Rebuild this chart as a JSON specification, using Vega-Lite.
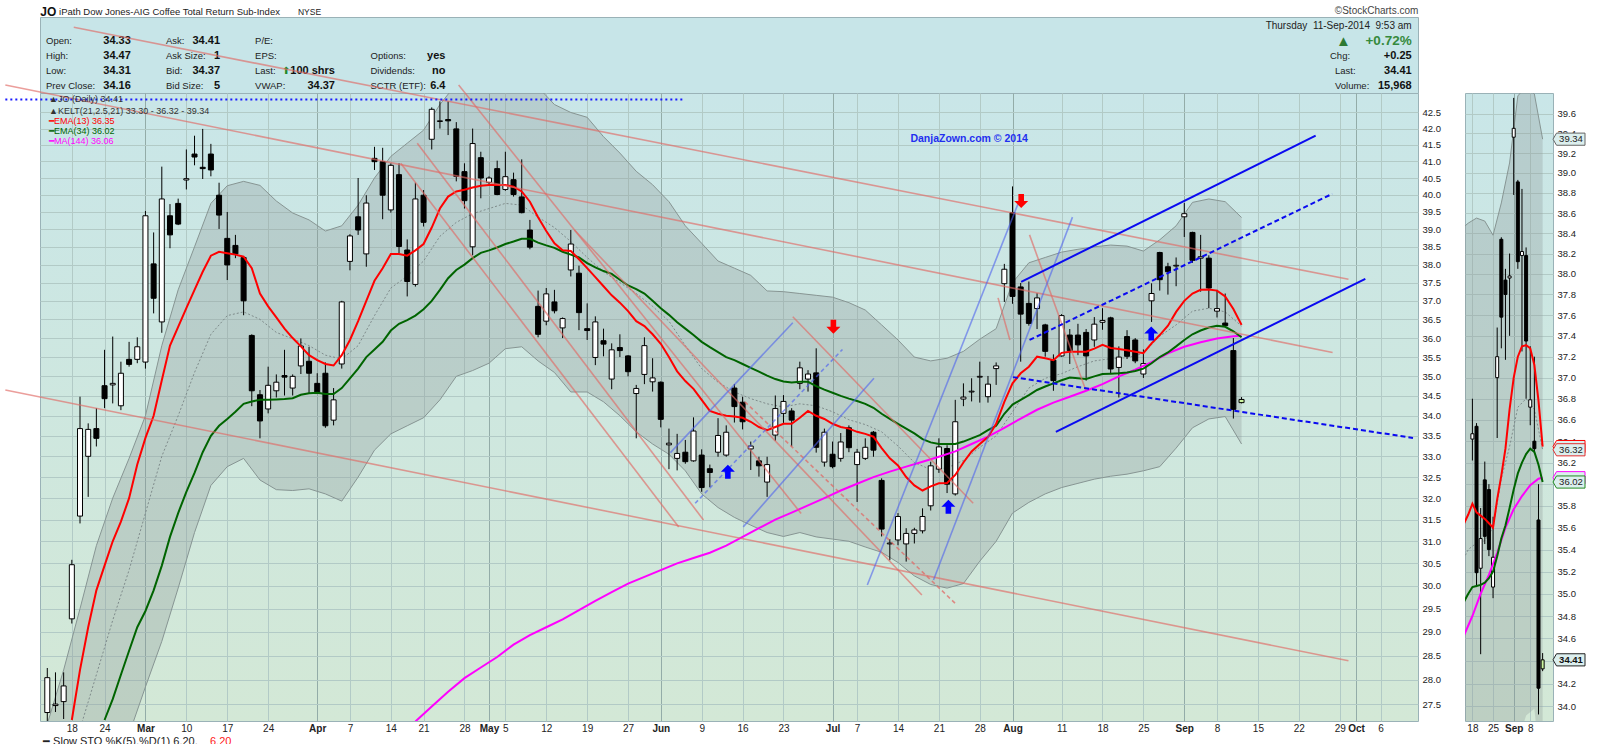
{
  "$schema": "https://vega.github.io/schema/vega-lite/v6.json",
  "padding": {"left": 0, "top": 5, "right": 0, "bottom": 0},
  "background": "white",
  "config": {
    "font": "Liberation Sans",
    "view": {"stroke": null},
    "axis": {"labelFont": "Liberation Sans", "labelColor": "#222", "labelFontSize": 9.5, "domain": false, "ticks": false, "gridColor": "#b2cac6", "gridWidth": 1}
  },
  "datasets": {
    "candles": [
      {"t":-3,"o":27.33,"h":28.24,"l":27.1,"c":28.04},{"t":-2,"o":27.47,"h":28.15,"l":27.34,"c":27.5},{"t":-1,"o":27.55,"h":28.15,"l":27.2,"c":27.87},
      {"t":0,"o":29.28,"h":30.58,"l":29.18,"c":30.47},{"t":1,"o":31.58,"h":34.48,"l":31.41,"c":33.68},{"t":2,"o":33.0,"h":33.81,"l":32.03,"c":33.66},
      {"t":3,"o":33.68,"h":34.19,"l":33.24,"c":33.44},{"t":4,"o":34.76,"h":35.69,"l":34.19,"c":34.43},{"t":5,"o":34.78,"h":36.04,"l":34.31,"c":34.82},
      {"t":6,"o":34.25,"h":35.38,"l":34.14,"c":35.08},{"t":7,"o":35.44,"h":35.9,"l":35.25,"c":35.31},{"t":8,"o":35.44,"h":36.02,"l":35.34,"c":35.77},
      {"t":9,"o":35.37,"h":39.53,"l":35.2,"c":39.39},{"t":10,"o":38.02,"h":38.91,"l":36.66,"c":37.07},{"t":11,"o":36.43,"h":40.84,"l":36.14,"c":39.88},
      {"t":12,"o":39.39,"h":39.73,"l":38.46,"c":38.84},{"t":13,"o":39.75,"h":39.89,"l":39.12,"c":39.15},{"t":14,"o":40.44,"h":41.36,"l":40.16,"c":40.48},
      {"t":15,"o":41.22,"h":41.78,"l":40.88,"c":41.13},{"t":16,"o":40.82,"h":41.99,"l":40.47,"c":40.78},{"t":17,"o":41.22,"h":41.53,"l":40.55,"c":40.74},
      {"t":18,"o":39.99,"h":40.36,"l":39.01,"c":39.41},{"t":19,"o":38.74,"h":39.5,"l":37.57,"c":37.99},{"t":20,"o":38.54,"h":38.84,"l":38.18,"c":38.3},
      {"t":21,"o":38.2,"h":38.22,"l":36.61,"c":37.0},{"t":22,"o":36.07,"h":36.1,"l":34.24,"c":34.63},{"t":23,"o":34.53,"h":34.65,"l":33.44,"c":33.87},
      {"t":24,"o":34.17,"h":35.25,"l":34.06,"c":34.77},{"t":25,"o":34.63,"h":35.05,"l":34.46,"c":34.85},{"t":26,"o":35.02,"h":35.69,"l":34.51,"c":34.98},
      {"t":27,"o":34.7,"h":35.05,"l":34.51,"c":35.0},{"t":28,"o":35.27,"h":35.99,"l":35.06,"c":35.79},{"t":29,"o":35.39,"h":35.77,"l":34.56,"c":35.08},
      {"t":30,"o":34.82,"h":35.08,"l":34.55,"c":34.56},{"t":31,"o":35.08,"h":35.36,"l":33.7,"c":33.75},{"t":32,"o":33.89,"h":34.7,"l":33.76,"c":34.4},
      {"t":33,"o":35.32,"h":37.0,"l":35.2,"c":36.97},{"t":34,"o":38.09,"h":38.86,"l":37.84,"c":38.81},{"t":35,"o":39.36,"h":40.5,"l":38.84,"c":38.98},
      {"t":36,"o":38.3,"h":39.99,"l":37.94,"c":39.76},{"t":37,"o":41.09,"h":41.44,"l":40.74,"c":40.99},{"t":38,"o":40.99,"h":41.41,"l":39.29,"c":39.99},
      {"t":39,"o":39.56,"h":40.94,"l":39.48,"c":40.88},{"t":40,"o":40.6,"h":40.94,"l":38.32,"c":38.51},{"t":41,"o":38.41,"h":38.71,"l":37.12,"c":37.53},
      {"t":42,"o":37.45,"h":40.36,"l":37.39,"c":39.88},{"t":43,"o":39.99,"h":40.14,"l":39.08,"c":39.2},{"t":44,"o":41.67,"h":42.66,"l":41.36,"c":42.6},
      {"t":45,"o":42.22,"h":42.85,"l":42.0,"c":42.24},{"t":46,"o":42.28,"h":42.85,"l":41.8,"c":42.24},{"t":47,"o":41.99,"h":42.2,"l":40.4,"c":40.55},
      {"t":48,"o":40.69,"h":40.94,"l":39.6,"c":39.83},{"t":49,"o":38.5,"h":42.0,"l":38.26,"c":41.54},{"t":50,"o":41.11,"h":41.29,"l":39.9,"c":40.5},
      {"t":51,"o":40.37,"h":40.55,"l":40.3,"c":40.5},{"t":52,"o":40.78,"h":41.02,"l":39.99,"c":40.01},{"t":53,"o":40.16,"h":41.29,"l":40.12,"c":40.54},
      {"t":54,"o":40.45,"h":40.66,"l":39.95,"c":40.01},{"t":55,"o":39.94,"h":41.06,"l":39.46,"c":39.48},{"t":56,"o":38.98,"h":39.27,"l":38.43,"c":38.49},
      {"t":57,"o":36.85,"h":37.28,"l":36.02,"c":36.1},{"t":58,"o":36.45,"h":37.35,"l":36.34,"c":37.19},{"t":59,"o":36.97,"h":37.3,"l":36.66,"c":36.73},
      {"t":60,"o":36.27,"h":36.55,"l":36.0,"c":36.52},{"t":61,"o":37.85,"h":38.98,"l":37.67,"c":38.58},{"t":62,"o":37.76,"h":37.97,"l":36.21,"c":36.68},
      {"t":63,"o":36.25,"h":36.93,"l":35.95,"c":36.2},{"t":64,"o":35.49,"h":36.58,"l":35.29,"c":36.43},{"t":65,"o":35.93,"h":36.25,"l":35.52,"c":35.84},
      {"t":66,"o":34.93,"h":35.86,"l":34.67,"c":35.69},{"t":67,"o":35.75,"h":36.1,"l":35.5,"c":35.67},{"t":68,"o":35.53,"h":35.55,"l":35.0,"c":35.12},
      {"t":69,"o":34.56,"h":34.78,"l":33.44,"c":34.69},{"t":70,"o":35.05,"h":36.02,"l":34.8,"c":35.8},{"t":71,"o":34.86,"h":35.47,"l":34.61,"c":34.96},
      {"t":72,"o":34.85,"h":34.87,"l":33.71,"c":33.91},{"t":73,"o":33.28,"h":33.68,"l":32.69,"c":33.32},{"t":74,"o":32.95,"h":33.55,"l":32.66,"c":33.07},
      {"t":75,"o":33.1,"h":33.4,"l":32.82,"c":32.87},{"t":76,"o":32.89,"h":33.96,"l":32.87,"c":33.62},{"t":77,"o":33.03,"h":33.17,"l":32.15,"c":32.25},
      {"t":78,"o":32.7,"h":32.8,"l":32.26,"c":32.61},{"t":79,"o":33.1,"h":33.94,"l":32.99,"c":33.51},{"t":80,"o":33.03,"h":33.76,"l":32.99,"c":33.59},
      {"t":81,"o":34.7,"h":34.8,"l":33.83,"c":34.23},{"t":82,"o":34.34,"h":34.48,"l":33.66,"c":33.85},{"t":83,"o":33.18,"h":33.36,"l":32.67,"c":33.25},
      {"t":84,"o":32.89,"h":32.99,"l":32.51,"c":32.77},{"t":85,"o":32.38,"h":32.99,"l":32.03,"c":32.8},{"t":86,"o":33.52,"h":34.51,"l":33.38,"c":34.18},
      {"t":87,"o":34.06,"h":34.52,"l":33.82,"c":34.36},{"t":88,"o":34.12,"h":34.19,"l":33.24,"c":33.89},{"t":89,"o":34.82,"h":35.38,"l":34.67,"c":35.22},
      {"t":90,"o":34.93,"h":35.16,"l":34.61,"c":35.06},{"t":91,"o":35.09,"h":35.73,"l":33.09,"c":33.22},{"t":92,"o":32.86,"h":33.68,"l":32.75,"c":33.59},
      {"t":93,"o":33.05,"h":33.36,"l":32.71,"c":32.75},{"t":94,"o":32.95,"h":33.57,"l":32.87,"c":33.35},{"t":95,"o":33.7,"h":33.76,"l":33.1,"c":33.21},
      {"t":96,"o":32.8,"h":33.18,"l":31.91,"c":33.1},{"t":97,"o":32.95,"h":33.44,"l":32.91,"c":33.22},{"t":98,"o":33.59,"h":33.62,"l":32.99,"c":33.15},
      {"t":99,"o":32.42,"h":32.47,"l":31.11,"c":31.28},{"t":100,"o":30.94,"h":31.05,"l":30.57,"c":30.96},{"t":101,"o":31.03,"h":31.65,"l":30.91,"c":31.57},
      {"t":102,"o":30.94,"h":31.3,"l":30.54,"c":31.18},{"t":103,"o":31.18,"h":31.31,"l":30.95,"c":31.26},{"t":104,"o":31.24,"h":31.76,"l":31.18,"c":31.57},
      {"t":105,"o":31.82,"h":32.87,"l":31.71,"c":32.77},{"t":106,"o":32.69,"h":33.44,"l":32.6,"c":33.23},{"t":107,"o":33.19,"h":33.27,"l":32.12,"c":32.33},
      {"t":108,"o":32.1,"h":34.4,"l":32.06,"c":33.85},{"t":109,"o":34.42,"h":34.82,"l":34.24,"c":34.47},{"t":110,"o":34.6,"h":34.95,"l":34.36,"c":34.62},
      {"t":111,"o":34.98,"h":35.38,"l":34.33,"c":35.0},{"t":112,"o":34.48,"h":35.01,"l":34.33,"c":34.8},{"t":113,"o":35.2,"h":35.36,"l":34.78,"c":35.27},
      {"t":114,"o":37.47,"h":38.02,"l":36.97,"c":37.87},{"t":115,"o":39.48,"h":40.25,"l":36.92,"c":37.12},{"t":116,"o":37.38,"h":37.49,"l":35.38,"c":36.64},
      {"t":117,"o":36.93,"h":37.53,"l":36.33,"c":36.39},{"t":118,"o":36.79,"h":37.21,"l":36.24,"c":37.08},{"t":119,"o":36.35,"h":36.38,"l":35.51,"c":35.65},
      {"t":120,"o":35.42,"h":35.57,"l":34.63,"c":34.89},{"t":121,"o":35.53,"h":36.64,"l":35.51,"c":36.6},{"t":122,"o":36.08,"h":36.24,"l":35.32,"c":35.67},
      {"t":123,"o":36.08,"h":36.38,"l":35.55,"c":35.82},{"t":124,"o":36.15,"h":36.24,"l":34.89,"c":35.53},{"t":125,"o":35.95,"h":36.56,"l":35.77,"c":36.37},
      {"t":126,"o":36.42,"h":36.8,"l":36.22,"c":36.47},{"t":127,"o":36.54,"h":36.57,"l":35.06,"c":35.19},{"t":128,"o":35.23,"h":35.78,"l":34.46,"c":35.5},
      {"t":129,"o":36.04,"h":36.21,"l":35.45,"c":35.52},{"t":130,"o":35.95,"h":36.0,"l":35.34,"c":35.4},{"t":131,"o":35.06,"h":35.7,"l":34.96,"c":35.33},
      {"t":132,"o":37.0,"h":37.48,"l":36.43,"c":37.2},{"t":133,"o":38.34,"h":38.36,"l":37.28,"c":37.58},{"t":134,"o":37.94,"h":38.05,"l":37.17,"c":37.8},
      {"t":135,"o":37.96,"h":38.2,"l":37.4,"c":37.98},{"t":136,"o":39.36,"h":39.76,"l":38.78,"c":39.45},{"t":137,"o":38.91,"h":38.93,"l":38.05,"c":38.12},
      {"t":138,"o":38.18,"h":38.84,"l":37.25,"c":38.22},{"t":139,"o":38.18,"h":38.26,"l":36.8,"c":37.35},{"t":140,"o":36.72,"h":37.3,"l":36.55,"c":36.79},
      {"t":141,"o":36.4,"h":37.2,"l":36.29,"c":36.33},{"t":142,"o":35.67,"h":36.0,"l":33.93,"c":34.16},{"t":143,"o":34.33,"h":34.47,"l":34.31,"c":34.41}
    ],
    "kelt": [
      {"t":-3,"u":27.1,"m":26.0,"lo":25.0},{"t":-1,"u":28.2,"m":26.6,"lo":25.5},{"t":1,"u":29.5,"m":27.0,"lo":25.9},{"t":3,"u":30.9,"m":28.1,"lo":26.2},
      {"t":5,"u":32.0,"m":29.25,"lo":26.5},{"t":7,"u":32.95,"m":30.35,"lo":26.9},{"t":9,"u":34.0,"m":31.65,"lo":27.85},{"t":11,"u":35.8,"m":33.0,"lo":28.8},
      {"t":13,"u":37.3,"m":34.0,"lo":29.95},{"t":15,"u":38.5,"m":35.1,"lo":31.2},{"t":17,"u":39.75,"m":36.1,"lo":32.3},{"t":19,"u":40.27,"m":36.6,"lo":32.75},
      {"t":21,"u":40.4,"m":36.7,"lo":32.95},{"t":23,"u":40.28,"m":36.5,"lo":32.43},{"t":25,"u":39.82,"m":36.15,"lo":32.2},{"t":27,"u":39.47,"m":35.98,"lo":32.18},
      {"t":29,"u":39.27,"m":35.8,"lo":32.22},{"t":31,"u":38.95,"m":35.55,"lo":32.1},{"t":33,"u":39.1,"m":35.45,"lo":31.93},{"t":35,"u":39.7,"m":35.8,"lo":32.5},
      {"t":37,"u":40.5,"m":36.6,"lo":33.15},{"t":39,"u":41.15,"m":37.35,"lo":33.55},{"t":41,"u":41.55,"m":37.68,"lo":33.75},{"t":43,"u":41.95,"m":38.1,"lo":33.95},
      {"t":45,"u":42.75,"m":38.8,"lo":34.4},{"t":47,"u":43.4,"m":39.2,"lo":35.0},{"t":49,"u":43.6,"m":39.45,"lo":35.15},{"t":51,"u":43.7,"m":39.6,"lo":35.34},
      {"t":53,"u":43.7,"m":39.75,"lo":35.72},{"t":55,"u":43.6,"m":39.7,"lo":35.77},{"t":57,"u":43.3,"m":39.35,"lo":35.4},{"t":59,"u":42.75,"m":39.05,"lo":35.1},
      {"t":61,"u":42.5,"m":38.65,"lo":34.6},{"t":63,"u":42.35,"m":38.2,"lo":34.6},{"t":65,"u":41.75,"m":37.8,"lo":34.35},{"t":67,"u":41.25,"m":37.5,"lo":34.0},
      {"t":69,"u":40.7,"m":37.2,"lo":33.6},{"t":71,"u":40.3,"m":36.85,"lo":33.3},{"t":73,"u":39.8,"m":36.45,"lo":33.05},{"t":75,"u":39.1,"m":35.8,"lo":32.65},
      {"t":77,"u":38.6,"m":35.2,"lo":32.1},{"t":79,"u":38.1,"m":34.85,"lo":31.78},{"t":81,"u":37.9,"m":34.6,"lo":31.55},{"t":83,"u":37.7,"m":34.43,"lo":31.37},
      {"t":85,"u":37.27,"m":34.3,"lo":31.2},{"t":87,"u":37.25,"m":34.22,"lo":31.11},{"t":89,"u":37.2,"m":34.3,"lo":31.2},{"t":91,"u":37.15,"m":34.25,"lo":31.1},
      {"t":93,"u":37.1,"m":34.1,"lo":31.05},{"t":95,"u":36.95,"m":33.9,"lo":31.0},{"t":97,"u":36.75,"m":33.78,"lo":30.87},{"t":99,"u":36.35,"m":33.6,"lo":30.75},
      {"t":101,"u":35.95,"m":33.25,"lo":30.52},{"t":103,"u":35.5,"m":32.85,"lo":30.22},{"t":105,"u":35.4,"m":32.68,"lo":30.03},{"t":107,"u":35.47,"m":32.72,"lo":29.95},
      {"t":109,"u":35.65,"m":32.9,"lo":30.05},{"t":111,"u":35.97,"m":33.22,"lo":30.55},{"t":113,"u":36.25,"m":33.5,"lo":31.0},{"t":115,"u":37.5,"m":34.1,"lo":31.65},
      {"t":117,"u":38.05,"m":34.7,"lo":31.9},{"t":119,"u":38.2,"m":34.95,"lo":32.1},{"t":121,"u":38.35,"m":35.07,"lo":32.25},{"t":123,"u":38.43,"m":35.25,"lo":32.35},
      {"t":125,"u":38.5,"m":35.4,"lo":32.45},{"t":127,"u":38.55,"m":35.46,"lo":32.52},{"t":129,"u":38.52,"m":35.48,"lo":32.57},{"t":131,"u":38.38,"m":35.6,"lo":32.65},
      {"t":133,"u":38.7,"m":36.05,"lo":32.75},{"t":135,"u":39.1,"m":36.35,"lo":33.2},{"t":137,"u":39.78,"m":36.72,"lo":33.7},{"t":139,"u":39.88,"m":36.8,"lo":33.92},
      {"t":141,"u":39.8,"m":36.7,"lo":33.98},{"t":143,"u":39.34,"m":36.32,"lo":33.3}
    ],
    "ema13": [
      {"t":0,"p":27.18},{"t":1,"p":28.2},{"t":2,"p":29.1},{"t":3,"p":29.9},{"t":4,"p":30.45},{"t":5,"p":31.0},{"t":6,"p":31.45},{"t":7,"p":32.0},{"t":8,"p":32.8},{"t":9,"p":33.45},
      {"t":10,"p":34.0},{"t":11,"p":34.9},{"t":12,"p":35.8},{"t":13,"p":36.3},{"t":14,"p":36.8},{"t":15,"p":37.3},{"t":16,"p":37.8},{"t":17,"p":38.25},{"t":18,"p":38.36},{"t":19,"p":38.32},
      {"t":20,"p":38.28},{"t":21,"p":38.22},{"t":22,"p":37.9},{"t":23,"p":37.2},{"t":24,"p":36.85},{"t":25,"p":36.55},{"t":26,"p":36.25},{"t":27,"p":36.0},{"t":28,"p":35.78},{"t":29,"p":35.55},
      {"t":30,"p":35.42},{"t":31,"p":35.32},{"t":32,"p":35.28},{"t":33,"p":35.55},{"t":34,"p":35.95},{"t":35,"p":36.45},{"t":36,"p":37.0},{"t":37,"p":37.55},{"t":38,"p":37.9},{"t":39,"p":38.3},
      {"t":40,"p":38.3},{"t":41,"p":38.25},{"t":42,"p":38.4},{"t":43,"p":38.58},{"t":44,"p":39.05},{"t":45,"p":39.6},{"t":46,"p":39.95},{"t":47,"p":40.1},{"t":48,"p":40.15},{"t":49,"p":40.22},
      {"t":50,"p":40.27},{"t":51,"p":40.29},{"t":52,"p":40.29},{"t":53,"p":40.29},{"t":54,"p":40.24},{"t":55,"p":40.1},{"t":56,"p":39.8},{"t":57,"p":39.35},{"t":58,"p":38.95},{"t":59,"p":38.6},
      {"t":60,"p":38.4},{"t":61,"p":38.38},{"t":62,"p":38.15},{"t":63,"p":37.9},{"t":64,"p":37.65},{"t":65,"p":37.4},{"t":66,"p":37.15},{"t":67,"p":36.95},{"t":68,"p":36.72},{"t":69,"p":36.45},
      {"t":70,"p":36.32},{"t":71,"p":36.1},{"t":72,"p":35.85},{"t":73,"p":35.5},{"t":74,"p":35.13},{"t":75,"p":34.88},{"t":76,"p":34.68},{"t":77,"p":34.4},{"t":78,"p":34.12},{"t":79,"p":34.05},
      {"t":80,"p":34.0},{"t":81,"p":33.98},{"t":82,"p":33.95},{"t":83,"p":33.85},{"t":84,"p":33.72},{"t":85,"p":33.64},{"t":86,"p":33.72},{"t":87,"p":33.8},{"t":88,"p":33.8},{"t":89,"p":33.95},
      {"t":90,"p":34.12},{"t":91,"p":34.0},{"t":92,"p":33.92},{"t":93,"p":33.8},{"t":94,"p":33.72},{"t":95,"p":33.68},{"t":96,"p":33.6},{"t":97,"p":33.55},{"t":98,"p":33.48},{"t":99,"p":33.2},
      {"t":100,"p":32.95},{"t":101,"p":32.78},{"t":102,"p":32.5},{"t":103,"p":32.3},{"t":104,"p":32.18},{"t":105,"p":32.28},{"t":106,"p":32.35},{"t":107,"p":32.36},{"t":108,"p":32.55},{"t":109,"p":32.85},
      {"t":110,"p":33.12},{"t":111,"p":33.3},{"t":112,"p":33.47},{"t":113,"p":33.8},{"t":114,"p":34.35},{"t":115,"p":34.82},{"t":116,"p":35.08},{"t":117,"p":35.25},{"t":118,"p":35.51},{"t":119,"p":35.47},
      {"t":120,"p":35.42},{"t":121,"p":35.61},{"t":122,"p":35.64},{"t":123,"p":35.64},{"t":124,"p":35.64},{"t":125,"p":35.72},{"t":126,"p":35.82},{"t":127,"p":35.74},{"t":128,"p":35.71},{"t":129,"p":35.68},
      {"t":130,"p":35.64},{"t":131,"p":35.6},{"t":132,"p":35.86},{"t":133,"p":36.08},{"t":134,"p":36.33},{"t":135,"p":36.7},{"t":136,"p":37.0},{"t":137,"p":37.2},{"t":138,"p":37.3},{"t":139,"p":37.31},
      {"t":140,"p":37.28},{"t":141,"p":37.12},{"t":142,"p":36.78},{"t":143,"p":36.35}
    ],
    "ema34": [
      {"t":4,"p":27.18},{"t":5,"p":27.6},{"t":6,"p":28.1},{"t":7,"p":28.6},{"t":8,"p":29.1},{"t":9,"p":29.45},
      {"t":10,"p":29.9},{"t":11,"p":30.45},{"t":12,"p":31.1},{"t":13,"p":31.65},{"t":14,"p":32.15},{"t":15,"p":32.6},{"t":16,"p":33.1},{"t":17,"p":33.5},{"t":18,"p":33.75},{"t":19,"p":33.92},
      {"t":20,"p":34.1},{"t":21,"p":34.3},{"t":22,"p":34.36},{"t":23,"p":34.4},{"t":24,"p":34.4},{"t":25,"p":34.41},{"t":26,"p":34.42},{"t":27,"p":34.44},{"t":28,"p":34.53},{"t":29,"p":34.57},
      {"t":30,"p":34.58},{"t":31,"p":34.55},{"t":32,"p":34.55},{"t":33,"p":34.7},{"t":34,"p":34.95},{"t":35,"p":35.2},{"t":36,"p":35.5},{"t":37,"p":35.7},{"t":38,"p":35.9},{"t":39,"p":36.2},
      {"t":40,"p":36.38},{"t":41,"p":36.48},{"t":42,"p":36.6},{"t":43,"p":36.77},{"t":44,"p":37.0},{"t":45,"p":37.3},{"t":46,"p":37.62},{"t":47,"p":37.85},{"t":48,"p":38.0},{"t":49,"p":38.18},
      {"t":50,"p":38.33},{"t":51,"p":38.4},{"t":52,"p":38.48},{"t":53,"p":38.58},{"t":54,"p":38.65},{"t":55,"p":38.73},{"t":56,"p":38.73},{"t":57,"p":38.62},{"t":58,"p":38.54},{"t":59,"p":38.47},
      {"t":60,"p":38.36},{"t":61,"p":38.28},{"t":62,"p":38.2},{"t":63,"p":38.04},{"t":64,"p":37.92},{"t":65,"p":37.82},{"t":66,"p":37.74},{"t":67,"p":37.58},{"t":68,"p":37.42},{"t":69,"p":37.32},
      {"t":70,"p":37.2},{"t":71,"p":37.0},{"t":72,"p":36.8},{"t":73,"p":36.62},{"t":74,"p":36.42},{"t":75,"p":36.25},{"t":76,"p":36.08},{"t":77,"p":35.9},{"t":78,"p":35.76},{"t":79,"p":35.63},
      {"t":80,"p":35.5},{"t":81,"p":35.42},{"t":82,"p":35.32},{"t":83,"p":35.22},{"t":84,"p":35.12},{"t":85,"p":35.02},{"t":86,"p":34.93},{"t":87,"p":34.87},{"t":88,"p":34.84},{"t":89,"p":34.86},
      {"t":90,"p":34.86},{"t":91,"p":34.75},{"t":92,"p":34.66},{"t":93,"p":34.58},{"t":94,"p":34.5},{"t":95,"p":34.43},{"t":96,"p":34.37},{"t":97,"p":34.3},{"t":98,"p":34.2},{"t":99,"p":34.05},
      {"t":100,"p":33.92},{"t":101,"p":33.8},{"t":102,"p":33.68},{"t":103,"p":33.56},{"t":104,"p":33.42},{"t":105,"p":33.34},{"t":106,"p":33.3},{"t":107,"p":33.3},{"t":108,"p":33.3},{"t":109,"p":33.36},
      {"t":110,"p":33.44},{"t":111,"p":33.52},{"t":112,"p":33.64},{"t":113,"p":33.75},{"t":114,"p":34.05},{"t":115,"p":34.28},{"t":116,"p":34.4},{"t":117,"p":34.52},{"t":118,"p":34.65},{"t":119,"p":34.74},
      {"t":120,"p":34.82},{"t":121,"p":34.9},{"t":122,"p":34.97},{"t":123,"p":34.95},{"t":124,"p":34.93},{"t":125,"p":35.0},{"t":126,"p":35.06},{"t":127,"p":35.07},{"t":128,"p":35.08},{"t":129,"p":35.1},
      {"t":130,"p":35.14},{"t":131,"p":35.2},{"t":132,"p":35.34},{"t":133,"p":35.5},{"t":134,"p":35.62},{"t":135,"p":35.78},{"t":136,"p":35.95},{"t":137,"p":36.1},{"t":138,"p":36.2},{"t":139,"p":36.28},
      {"t":140,"p":36.33},{"t":141,"p":36.3},{"t":142,"p":36.18},{"t":143,"p":36.02}
    ],
    "ma144": [
      {"t":42,"p":27.15},{"t":44,"p":27.45},{"t":46,"p":27.75},{"t":48,"p":28.03},{"t":50,"p":28.25},{"t":52,"p":28.47},{"t":54,"p":28.73},{"t":56,"p":28.93},
      {"t":58,"p":29.1},{"t":60,"p":29.27},{"t":62,"p":29.47},{"t":64,"p":29.67},{"t":66,"p":29.86},{"t":68,"p":30.05},{"t":70,"p":30.2},{"t":72,"p":30.35},
      {"t":74,"p":30.5},{"t":76,"p":30.62},{"t":78,"p":30.74},{"t":80,"p":30.9},{"t":82,"p":31.1},{"t":84,"p":31.3},{"t":86,"p":31.5},{"t":88,"p":31.66},
      {"t":90,"p":31.83},{"t":92,"p":32.0},{"t":94,"p":32.18},{"t":96,"p":32.34},{"t":98,"p":32.5},{"t":100,"p":32.63},{"t":102,"p":32.75},{"t":104,"p":32.87},
      {"t":106,"p":32.99},{"t":108,"p":33.12},{"t":110,"p":33.3},{"t":112,"p":33.48},{"t":114,"p":33.7},{"t":116,"p":33.93},{"t":118,"p":34.15},{"t":120,"p":34.33},
      {"t":122,"p":34.48},{"t":124,"p":34.63},{"t":126,"p":34.8},{"t":128,"p":35.0},{"t":130,"p":35.17},{"t":132,"p":35.37},{"t":134,"p":35.6},{"t":136,"p":35.77},
      {"t":138,"p":35.89},{"t":140,"p":35.99},{"t":142,"p":36.05},{"t":143,"p":36.06}
    ]
  },
  "columns": 2,
  "spacing": {"row": 0, "column": 47},
  "bounds": "flush",
  "concat": [
    {
      "width": 1378,
      "height": 76,
      "view": {"fill": "#c7e5e8", "stroke": "#9ab2b7"},
      "encoding": {
        "x": {"field": "t", "type": "quantitative", "scale": {"domain": [-3.28, 163.96], "nice": false, "zero": false}, "axis": null},
        "y": {"field": "r", "type": "quantitative", "scale": {"domain": [-0.6, 4.4667], "nice": false, "zero": false, "reverse": true}, "axis": null},
        "text": {"field": "text"}
      },
      "layer": [
        {
          "data": {"values": [
            {"t":-2.55,"r":1,"text":"Open:"},{"t":-2.55,"r":2,"text":"High:"},{"t":-2.55,"r":3,"text":"Low:"},{"t":-2.55,"r":4,"text":"Prev Close:"},
            {"t":12.01,"r":1,"text":"Ask:"},{"t":12.01,"r":2,"text":"Ask Size:"},{"t":12.01,"r":3,"text":"Bid:"},{"t":12.01,"r":4,"text":"Bid Size:"},
            {"t":22.82,"r":1,"text":"P/E:"},{"t":22.82,"r":2,"text":"EPS:"},{"t":22.82,"r":3,"text":"Last:"},{"t":22.82,"r":4,"text":"VWAP:"},
            {"t":36.83,"r":2,"text":"Options:"},{"t":36.83,"r":3,"text":"Dividends:"},{"t":36.83,"r":4,"text":"SCTR (ETF):"},
            {"t":153.28,"r":2,"text":"Chg:"},{"t":153.88,"r":3,"text":"Last:"},{"t":153.88,"r":4,"text":"Volume:"}
          ]},
          "mark": {"type": "text", "align": "left", "baseline": "middle", "fontSize": 9.5, "color": "#222"}
        },
        {
          "data": {"values": [
            {"t":7.74,"r":1,"text":"34.33"},{"t":7.74,"r":2,"text":"34.47"},{"t":7.74,"r":3,"text":"34.31"},{"t":7.74,"r":4,"text":"34.16"},
            {"t":18.57,"r":1,"text":"34.41"},{"t":18.57,"r":2,"text":"1"},{"t":18.57,"r":3,"text":"34.37"},{"t":18.57,"r":4,"text":"5"},
            {"t":32.52,"r":3,"text":"100 shrs"},{"t":32.52,"r":4,"text":"34.37"},
            {"t":45.93,"r":2,"text":"yes"},{"t":45.93,"r":3,"text":"no"},{"t":45.93,"r":4,"text":"6.4"},
            {"t":163.19,"r":2,"text":"+0.25"},{"t":163.19,"r":3,"text":"34.41"},{"t":163.19,"r":4,"text":"15,968"}
          ]},
          "mark": {"type": "text", "align": "right", "baseline": "middle", "fontSize": 11, "fontWeight": "bold", "color": "#111"}
        },
        {
          "data": {"values": [{"t":163.19,"r":0,"text":"Thursday\u00a0\u00a011-Sep-2014\u00a0\u00a09:53 am"}]},
          "mark": {"type": "text", "align": "right", "baseline": "middle", "fontSize": 10, "color": "#222"}
        },
        {
          "data": {"values": [{"t":163.19,"r":1,"text":"+0.72%"}]},
          "mark": {"type": "text", "align": "right", "baseline": "middle", "fontSize": 13.5, "fontWeight": "bold", "color": "#358a3c"}
        },
        {
          "data": {"values": [{"t":154.9,"r":1,"text":"▲"}]},
          "mark": {"type": "text", "align": "center", "baseline": "middle", "fontSize": 15, "color": "#2e7a33"}
        },
        {
          "data": {"values": [{"t":26.54,"r":3,"text":"⬆"}]},
          "mark": {"type": "text", "align": "center", "baseline": "middle", "fontSize": 10, "color": "#1f8a2a"}
        },
        {
          "data": {"values": [{"t":-3.25,"r":-0.953,"text":"JO"}]},
          "mark": {"type": "text", "align": "left", "baseline": "middle", "fontSize": 12, "fontWeight": "bold", "color": "#111"}
        },
        {
          "data": {"values": [{"t":-0.97,"r":-0.953,"text":"iPath Dow Jones-AIG Coffee Total Return Sub-Index"}]},
          "mark": {"type": "text", "align": "left", "baseline": "middle", "fontSize": 9.5, "color": "#222"}
        },
        {
          "data": {"values": [{"t":28.03,"r":-0.953,"text":"NYSE"}]},
          "mark": {"type": "text", "align": "left", "baseline": "middle", "fontSize": 8.5, "color": "#222"}
        },
        {
          "data": {"values": [{"t":164.0,"r":-1.02,"text":"©StockCharts.com"}]},
          "mark": {"type": "text", "align": "right", "baseline": "middle", "fontSize": 10, "color": "#444"}
        }
      ]
    },
    {
      "width": 88,
      "height": 76,
      "data": {"values": [{}]},
      "mark": {"type": "point", "opacity": 0}
    },
    {
      "width": 1378,
      "height": 628,
      "view": {"fill": {"gradient": "linear", "x1": 0, "y1": 0, "x2": 0, "y2": 1, "stops": [{"offset": 0, "color": "#c9e6e8"}, {"offset": 1, "color": "#d3e8d6"}]}, "stroke": "#9ab2b7"},
      "encoding": {
        "x": {
          "field": "t", "type": "quantitative",
          "scale": {"domain": [-3.28, 163.96], "nice": false, "zero": false},
          "axis": {
            "orient": "bottom", "title": null, "grid": true,
            "values": [0,4,9,14,19,24,30,34,39,43,48,51,53,58,63,68,72,77,82,87,93,96,101,106,111,115,121,126,131,136,140,145,150,155,157,160],
            "labelExpr": "['18','24','Mar','10','17','24','Apr','7','14','21','28','May','5','12','19','27','Jun','9','16','23','Jul','7','14','21','28','Aug','11','18','25','Sep','8','15','22','29','Oct','6'][indexof([0,4,9,14,19,24,30,34,39,43,48,51,53,58,63,68,72,77,82,87,93,96,101,106,111,115,121,126,131,136,140,145,150,155,157,160], datum.value)]",
            "labelFontSize": 10,
            "labelFontWeight": {"condition": {"test": "indexof([9,30,51,72,93,115,136,157], datum.value) >= 0", "value": "bold"}, "value": "normal"},
            "gridColor": {"condition": {"test": "indexof([9,30,51,72,93,115,136,157], datum.value) >= 0", "value": "#93aca8"}, "value": "#b2cac6"},
            "labelPadding": 2, "labelOverlap": false, "labelFlush": false, "labelBound": false
          }
        }
      },
      "layer": [
        {
          "data": {"name": "kelt"},
          "mark": {"type": "area", "color": "#8c9494", "opacity": 0.3, "clip": true},
          "encoding": {
            "y": {"field": "u", "type": "quantitative", "title": null, "scale": {"type": "log", "domain": [27.16, 43.114], "nice": false},
              "axis": {"orient": "right", "title": null, "grid": true, "format": ".1f", "labelPadding": 4,
                "values": [27.5,28,28.5,29,29.5,30,30.5,31,31.5,32,32.5,33,33.5,34,34.5,35,35.5,36,36.5,37,37.5,38,38.5,39,39.5,40,40.5,41,41.5,42,42.5]}},
            "y2": {"field": "lo"}
          }
        },
        {
          "data": {"name": "kelt"},
          "mark": {"type": "line", "color": "#879593", "strokeWidth": 1, "clip": true},
          "encoding": {"y": {"field": "u", "type": "quantitative", "title": null, "scale": {"type": "log", "domain": [27.16, 43.114], "nice": false}}}
        },
        {
          "data": {"name": "kelt"},
          "mark": {"type": "line", "color": "#879593", "strokeWidth": 1, "clip": true},
          "encoding": {"y": {"field": "lo", "type": "quantitative", "title": null, "scale": {"type": "log", "domain": [27.16, 43.114], "nice": false}}}
        },
        {
          "data": {"name": "kelt"},
          "mark": {"type": "line", "color": "#7f8b8b", "strokeWidth": 1, "strokeDash": [2, 2], "clip": true},
          "encoding": {"y": {"field": "m", "type": "quantitative", "title": null, "scale": {"type": "log", "domain": [27.16, 43.114], "nice": false}}}
        },
        {
          "data": {"name": "candles"},
          "mark": {"type": "rule", "color": "#000000", "strokeWidth": 1, "clip": true},
          "encoding": {
            "y": {"field": "l", "type": "quantitative", "title": null, "scale": {"type": "log", "domain": [27.16, 43.114], "nice": false}},
            "y2": {"field": "h"}
          }
        },
        {
          "data": {"name": "candles"},
          "mark": {"type": "bar", "width": 5, "stroke": "#000000", "strokeWidth": 1, "clip": true},
          "encoding": {
            "y": {"field": "o", "type": "quantitative", "title": null, "scale": {"type": "log", "domain": [27.16, 43.114], "nice": false}},
            "y2": {"field": "c"},
            "fill": {"condition": [{"test": "datum.t == 143", "value": "#ccf5a0"}, {"test": "datum.c >= datum.o", "value": "#ffffff"}], "value": "#000000"}
          }
        },
        {
          "data": {"name": "ma144"},
          "mark": {"type": "line", "color": "#ff00ff", "strokeWidth": 2, "clip": true},
          "encoding": {"y": {"field": "p", "type": "quantitative", "title": null, "scale": {"type": "log", "domain": [27.16, 43.114], "nice": false}}}
        },
        {
          "data": {"name": "ema34"},
          "mark": {"type": "line", "color": "#006400", "strokeWidth": 2, "clip": true},
          "encoding": {"y": {"field": "p", "type": "quantitative", "title": null, "scale": {"type": "log", "domain": [27.16, 43.114], "nice": false}}}
        },
        {
          "data": {"name": "ema13"},
          "mark": {"type": "line", "color": "#ff0000", "strokeWidth": 2, "clip": true},
          "encoding": {"y": {"field": "p", "type": "quantitative", "title": null, "scale": {"type": "log", "domain": [27.16, 43.114], "nice": false}}}
        },
        {
          "data": {"values": [
            {"id":"A","t":0.24,"p":45.25},{"id":"A","t":156.07,"p":37.59},
            {"id":"B","t":-8.13,"p":43.37},{"id":"B","t":154.13,"p":35.62},
            {"id":"C","t":-8.13,"p":34.65},{"id":"C","t":156.07,"p":28.39},
            {"id":"F1","t":47.29,"p":43.37},{"id":"F1","t":89.16,"p":31.64},
            {"id":"F2","t":40.21,"p":40.94},{"id":"F2","t":74.19,"p":31.33},
            {"id":"F3","t":42.23,"p":41.55},{"id":"F3","t":77.22,"p":31.49},
            {"id":"F4","t":61.44,"p":38.98},{"id":"F4","t":103.92,"p":29.8},
            {"id":"F6","t":88.14,"p":36.57},{"id":"F6","t":110.19,"p":31.88},
            {"id":"F7","t":117.08,"p":38.84},{"id":"F7","t":123.95,"p":34.65},
            {"id":"F8","t":113.23,"p":37.08},{"id":"F8","t":114.68,"p":35.95}
          ]},
          "mark": {"type": "line", "color": "#e06a66", "opacity": 0.65, "strokeWidth": 1.6},
          "encoding": {"detail": {"field": "id"}, "y": {"field": "p", "type": "quantitative", "title": null, "scale": {"type": "log", "domain": [27.16, 43.114], "nice": false}}}
        },
        {
          "data": {"values": [{"id":"D1","t":82.28,"p":34.35},{"id":"D1","t":107.97,"p":29.62}]},
          "mark": {"type": "line", "color": "#e06a66", "opacity": 0.75, "strokeWidth": 1.6, "strokeDash": [4, 3]},
          "encoding": {"detail": {"field": "id"}, "y": {"field": "p", "type": "quantitative", "title": null, "scale": {"type": "log", "domain": [27.16, 43.114], "nice": false}}}
        },
        {
          "data": {"values": [
            {"id":"J1","t":73.18,"p":33.09},{"id":"J1","t":88.14,"p":36.41},
            {"id":"J3","t":82.08,"p":31.33},{"id":"J3","t":98.06,"p":34.95},
            {"id":"J4","t":97.25,"p":30.02},{"id":"J4","t":115.66,"p":39.73},
            {"id":"J5","t":105.34,"p":30.13},{"id":"J5","t":122.33,"p":39.35}
          ]},
          "mark": {"type": "line", "color": "#4f63ee", "opacity": 0.6, "strokeWidth": 1.6},
          "encoding": {"detail": {"field": "id"}, "y": {"field": "p", "type": "quantitative", "title": null, "scale": {"type": "log", "domain": [27.16, 43.114], "nice": false}}}
        },
        {
          "data": {"values": [{"id":"J2","t":76.21,"p":31.88},{"id":"J2","t":94.21,"p":35.7}]},
          "mark": {"type": "line", "color": "#4f63ee", "opacity": 0.65, "strokeWidth": 1.6, "strokeDash": [4, 3]},
          "encoding": {"detail": {"field": "id"}, "y": {"field": "p", "type": "quantitative", "title": null, "scale": {"type": "log", "domain": [27.16, 43.114], "nice": false}}}
        },
        {
          "data": {"values": [
            {"id":"U1","t":116.06,"p":37.52},{"id":"U1","t":152.06,"p":41.78},
            {"id":"U3","t":120.3,"p":33.6},{"id":"U3","t":158.13,"p":37.6}
          ]},
          "mark": {"type": "line", "color": "#0a0af0", "strokeWidth": 2},
          "encoding": {"detail": {"field": "id"}, "y": {"field": "p", "type": "quantitative", "title": null, "scale": {"type": "log", "domain": [27.16, 43.114], "nice": false}}}
        },
        {
          "data": {"values": [
            {"id":"U2","t":117.08,"p":35.95},{"id":"U2","t":154.09,"p":40.03},
            {"id":"U4","t":115.05,"p":34.98},{"id":"U4","t":163.96,"p":33.45}
          ]},
          "mark": {"type": "line", "color": "#0a0af0", "strokeWidth": 2, "strokeDash": [5, 3]},
          "encoding": {"detail": {"field": "id"}, "y": {"field": "p", "type": "quantitative", "title": null, "scale": {"type": "log", "domain": [27.16, 43.114], "nice": false}}}
        },
        {
          "data": {"values": [{"id":"H","t":-8.13,"p":42.91},{"id":"H","t":74.64,"p":42.91}]},
          "mark": {"type": "line", "color": "#1a1aff", "strokeWidth": 2, "strokeDash": [2, 3]},
          "encoding": {"detail": {"field": "id"}, "y": {"field": "p", "type": "quantitative", "title": null, "scale": {"type": "log", "domain": [27.16, 43.114], "nice": false}}}
        },
        {
          "data": {"values": [{"t":93.1,"p":36.3},{"t":116.06,"p":39.82}]},
          "mark": {"type": "point", "shape": "M-0.4,-1L0.4,-1L0.4,0L1,0L0,1L-1,0L-0.4,0Z", "size": 196, "filled": true, "color": "#ff0000", "opacity": 1},
          "encoding": {"y": {"field": "p", "type": "quantitative", "title": null, "scale": {"type": "log", "domain": [27.16, 43.114], "nice": false}}}
        },
        {
          "data": {"values": [{"t":80.2,"p":32.63},{"t":107.16,"p":31.8},{"t":131.96,"p":36.12}]},
          "mark": {"type": "point", "shape": "M-0.4,1L0.4,1L0.4,0L1,0L0,-1L-1,0L-0.4,0Z", "size": 196, "filled": true, "color": "#0000ff", "opacity": 1},
          "encoding": {"y": {"field": "p", "type": "quantitative", "title": null, "scale": {"type": "log", "domain": [27.16, 43.114], "nice": false}}}
        },
        {
          "data": {"values": [
            {"t":-2.79,"p":42.92,"text":"▲JO (Daily) 34.41","s":"price"},
            {"t":-2.79,"p":42.556,"text":"▲KELT(21,2.5,21) 33.30 - 36.32 - 39.34","s":"kelt"},
            {"t":-2.79,"p":42.24,"text":"━EMA(13) 36.35","s":"ema13"},
            {"t":-2.79,"p":41.93,"text":"━EMA(34) 36.02","s":"ema34"},
            {"t":-2.79,"p":41.61,"text":"━MA(144) 36.06","s":"ma144"}
          ]},
          "mark": {"type": "text", "align": "left", "baseline": "middle", "fontSize": 9},
          "encoding": {
            "y": {"field": "p", "type": "quantitative", "title": null, "scale": {"type": "log", "domain": [27.16, 43.114], "nice": false}},
            "text": {"field": "text"},
            "color": {"condition": [{"test": "datum.s == 'ema13'", "value": "#ff0000"}, {"test": "datum.s == 'ema34'", "value": "#006400"}, {"test": "datum.s == 'ma144'", "value": "#ff00ff"}], "value": "#333333"}
          }
        },
        {
          "data": {"values": [{"t":109.7,"p":41.68,"text":"DanjaZown.com © 2014"}]},
          "mark": {"type": "text", "align": "center", "baseline": "middle", "fontSize": 10.5, "fontWeight": "bold", "color": "#1f2ff0"},
          "encoding": {
            "y": {"field": "p", "type": "quantitative", "title": null, "scale": {"type": "log", "domain": [27.16, 43.114], "nice": false}},
            "text": {"field": "text"}
          }
        }
      ]
    },
    {
      "width": 88,
      "height": 628,
      "view": {"fill": {"gradient": "linear", "x1": 0, "y1": 0, "x2": 0, "y2": 1, "stops": [{"offset": 0, "color": "#c9e6e8"}, {"offset": 1, "color": "#d3e8d6"}]}, "stroke": "#9ab2b7"},
      "encoding": {
        "x": {
          "field": "t", "type": "quantitative",
          "scale": {"domain": [125.42, 144.3], "nice": false, "zero": false},
          "axis": {
            "orient": "bottom", "title": null, "grid": true, "values": [126, 131, 136, 140],
            "labelExpr": "['18','25','Sep','8'][indexof([126,131,136,140], datum.value)]",
            "labelFontSize": 10,
            "labelFontWeight": {"condition": {"test": "datum.value == 136", "value": "bold"}, "value": "normal"},
            "gridColor": {"condition": {"test": "datum.value == 136", "value": "#93aca8"}, "value": "#b2cac6"},
            "labelPadding": 2, "labelOverlap": false, "labelFlush": false, "labelBound": false
          }
        }
      },
      "layer": [
        {
          "data": {"name": "kelt"},
          "transform": [{"filter": "datum.t >= 123"}],
          "mark": {"type": "area", "color": "#8c9494", "opacity": 0.3, "clip": true},
          "encoding": {
            "y": {"field": "u", "type": "quantitative", "title": null, "scale": {"type": "log", "domain": [33.873, 39.81], "nice": false},
              "axis": {"orient": "right", "title": null, "grid": true, "format": ".1f", "labelPadding": 4,
                "values": [34,34.2,34.4,34.6,34.8,35,35.2,35.4,35.6,35.8,36,36.2,36.4,36.6,36.8,37,37.2,37.4,37.6,37.8,38,38.2,38.4,38.6,38.8,39,39.2,39.4,39.6]}},
            "y2": {"field": "lo"}
          }
        },
        {
          "data": {"name": "kelt"},
          "transform": [{"filter": "datum.t >= 123"}],
          "mark": {"type": "line", "color": "#879593", "strokeWidth": 1, "clip": true},
          "encoding": {"y": {"field": "u", "type": "quantitative", "title": null, "scale": {"type": "log", "domain": [33.873, 39.81], "nice": false}}}
        },
        {
          "data": {"name": "kelt"},
          "transform": [{"filter": "datum.t >= 123"}],
          "mark": {"type": "line", "color": "#7f8b8b", "strokeWidth": 1, "strokeDash": [2, 2], "clip": true},
          "encoding": {"y": {"field": "m", "type": "quantitative", "title": null, "scale": {"type": "log", "domain": [33.873, 39.81], "nice": false}}}
        },
        {
          "data": {"name": "candles"},
          "transform": [{"filter": "datum.t >= 126"}],
          "mark": {"type": "rule", "color": "#000000", "strokeWidth": 1, "clip": true},
          "encoding": {
            "y": {"field": "l", "type": "quantitative", "title": null, "scale": {"type": "log", "domain": [33.873, 39.81], "nice": false}},
            "y2": {"field": "h"}
          }
        },
        {
          "data": {"name": "candles"},
          "transform": [{"filter": "datum.t >= 126"}],
          "mark": {"type": "bar", "width": 3, "stroke": "#000000", "strokeWidth": 1, "clip": true},
          "encoding": {
            "y": {"field": "o", "type": "quantitative", "title": null, "scale": {"type": "log", "domain": [33.873, 39.81], "nice": false}},
            "y2": {"field": "c"},
            "fill": {"condition": [{"test": "datum.t == 143", "value": "#ccf5a0"}, {"test": "datum.c >= datum.o", "value": "#ffffff"}], "value": "#000000"}
          }
        },
        {
          "data": {"name": "ma144"},
          "transform": [{"filter": "datum.t >= 122"}],
          "mark": {"type": "line", "color": "#ff00ff", "strokeWidth": 2, "clip": true},
          "encoding": {"y": {"field": "p", "type": "quantitative", "title": null, "scale": {"type": "log", "domain": [33.873, 39.81], "nice": false}}}
        },
        {
          "data": {"name": "ema34"},
          "transform": [{"filter": "datum.t >= 124"}],
          "mark": {"type": "line", "color": "#006400", "strokeWidth": 2, "clip": true},
          "encoding": {"y": {"field": "p", "type": "quantitative", "title": null, "scale": {"type": "log", "domain": [33.873, 39.81], "nice": false}}}
        },
        {
          "data": {"name": "ema13"},
          "transform": [{"filter": "datum.t >= 124"}],
          "mark": {"type": "line", "color": "#ff0000", "strokeWidth": 2, "clip": true},
          "encoding": {"y": {"field": "p", "type": "quantitative", "title": null, "scale": {"type": "log", "domain": [33.873, 39.81], "nice": false}}}
        },
        {
          "data": {"values": [
            {"p":36.35,"s":"ema13"},{"p":36.06,"s":"ma144"},{"p":39.34,"s":"kelt"},{"p":36.32,"s":"keltmid"},{"p":36.02,"s":"ema34"},{"p":34.41,"s":"last"}
          ]},
          "mark": {"type": "point", "shape": "M0,0L0.22,-0.38L2,-0.38L2,0.38L0.22,0.38Z", "size": 1024, "filled": true, "fill": "#dcefee", "strokeWidth": 1, "opacity": 1},
          "encoding": {
            "x": {"value": "width"},
            "y": {"field": "p", "type": "quantitative", "title": null, "scale": {"type": "log", "domain": [33.873, 39.81], "nice": false}},
            "stroke": {"condition": [{"test": "datum.s == 'ema13'", "value": "#ff0000"}, {"test": "datum.s == 'ma144'", "value": "#ff00ff"}, {"test": "datum.s == 'keltmid'", "value": "#e03030"}, {"test": "datum.s == 'ema34'", "value": "#208a20"}, {"test": "datum.s == 'last'", "value": "#222222"}], "value": "#666666"}
          }
        },
        {
          "data": {"values": [{"p":39.34,"label":"39.34"},{"p":36.32,"label":"36.32"},{"p":36.02,"label":"36.02"}]},
          "mark": {"type": "text", "align": "center", "baseline": "middle", "dx": 18, "fontSize": 9.5, "color": "#222"},
          "encoding": {
            "x": {"value": "width"},
            "y": {"field": "p", "type": "quantitative", "title": null, "scale": {"type": "log", "domain": [33.873, 39.81], "nice": false}},
            "text": {"field": "label"}
          }
        },
        {
          "data": {"values": [{"p":34.41,"label":"34.41"}]},
          "mark": {"type": "text", "align": "center", "baseline": "middle", "dx": 18, "fontSize": 9.5, "fontWeight": "bold", "color": "#111"},
          "encoding": {
            "x": {"value": "width"},
            "y": {"field": "p", "type": "quantitative", "title": null, "scale": {"type": "log", "domain": [33.873, 39.81], "nice": false}},
            "text": {"field": "label"}
          }
        }
      ]
    },
    {
      "width": 1378,
      "height": 23,
      "encoding": {
        "x": {"field": "t", "type": "quantitative", "scale": {"domain": [-3.28, 163.96], "nice": false, "zero": false}, "axis": null},
        "y": {"field": "r", "type": "quantitative", "scale": {"domain": [0, 1], "nice": false, "zero": false}, "axis": null}
      },
      "layer": [
        {
          "data": {"values": [{}]},
          "mark": {"type": "rect", "fill": "#d2e8d5", "stroke": "#9ab2b7", "strokeWidth": 1},
          "encoding": {
            "x": {"datum": -3.28, "type": "quantitative"},
            "x2": {"datum": 163.96},
            "y": {"datum": 0, "type": "quantitative"},
            "y2": {"datum": 0.391}
          }
        },
        {
          "data": {"values": [{"t":-2.91,"r":0.087,"text":"━ Slow STO %K(5),%D(1) 6.20,"}]},
          "mark": {"type": "text", "align": "left", "baseline": "middle", "fontSize": 11, "color": "#222", "clip": true},
          "encoding": {"text": {"field": "text"}}
        },
        {
          "data": {"values": [{"t":17.35,"r":0.087,"text":"6.20"}]},
          "mark": {"type": "text", "align": "left", "baseline": "middle", "fontSize": 11, "color": "#ff2020", "clip": true},
          "encoding": {"text": {"field": "text"}}
        }
      ]
    },
    {
      "width": 88,
      "height": 23,
      "data": {"values": [{}]},
      "mark": {"type": "point", "opacity": 0}
    }
  ]
}
